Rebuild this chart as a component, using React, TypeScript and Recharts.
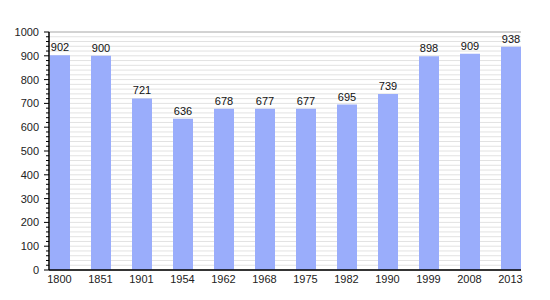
import React from 'react';
import { BarChart, Bar, XAxis, YAxis, CartesianGrid, LabelList } from 'recharts';

const years = ['1800', '1851', '1901', '1954', '1962', '1968', '1975', '1982', '1990', '1999', '2008', '2013'];
const population = [902, 900, 721, 636, 678, 677, 677, 695, 739, 898, 909, 938];
const minorTicks = Array.from({ length: 51 }, (_, i) => i * 20);
const majorTicks = [0, 100, 200, 300, 400, 500, 600, 700, 800, 900, 1000];

const data = years.map((year, i) => ({ year, pop: population[i] }));

const font = 'Liberation Sans, Arial, sans-serif';

function YTick(props: any) {
  const { x, y, payload } = props;
  const major = payload.value % 100 === 0;
  return (
    <g>
      <line x1={x - (major ? 5 : 3)} x2={x} y1={y} y2={y} stroke="#000" strokeWidth={1} />
      {major && (
        <text x={x - 10} y={y} dy={4} textAnchor="end" fontSize={11} fontFamily={font} fill="#222">
          {payload.value}
        </text>
      )}
    </g>
  );
}

export default function App() {
  return (
    <div style={{ width: 542, height: 292 }}>
      <BarChart
        width={542}
        height={292}
        data={data}
        margin={{ top: 24, right: 29, bottom: 10, left: 0 }}
        barSize={20}
      >
        <CartesianGrid vertical={false} stroke="#e2e2e2" yAxisId={0} />
        <CartesianGrid vertical={false} stroke="#b4b4b4" yAxisId="major" />
        <XAxis
          dataKey="year"
          padding={{ left: -10, right: -10 }}
          tickLine={false}
          tickSize={0}
          tickMargin={5}
          axisLine={{ stroke: '#000', strokeWidth: 1.5 }}
          tick={{ fontSize: 11, fontFamily: font, fill: '#222' }}
          height={20}
          interval={0}
        />
        <YAxis
          yAxisId={0}
          domain={[0, 1000]}
          ticks={minorTicks}
          interval={0}
          width={41}
          tickLine={false}
          tickSize={0}
          tickMargin={0}
          axisLine={{ stroke: '#000', strokeWidth: 1.5 }}
          tick={<YTick />}
        />
        <YAxis yAxisId="major" domain={[0, 1000]} ticks={majorTicks} hide />
        <Bar dataKey="pop" fill="#9aadfb" isAnimationActive={false}>
          <LabelList
            dataKey="pop"
            position="top"
            offset={4}
            style={{ fontSize: 11, fontFamily: font, fill: '#111' }}
          />
        </Bar>
      </BarChart>
    </div>
  );
}
